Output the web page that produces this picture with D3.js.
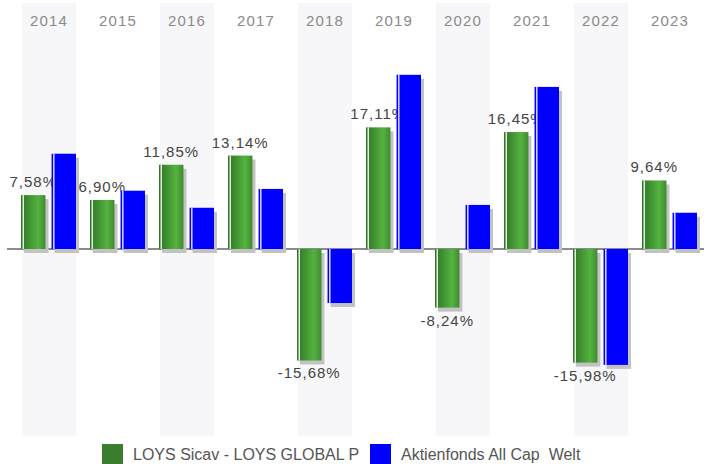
<!DOCTYPE html>
<html>
<head>
<meta charset="utf-8">
<script src="https://cdnjs.cloudflare.com/ajax/libs/d3/7.8.5/d3.min.js"></script>
<style>
  body { margin: 0; background: #fff; }
  svg { display: block; font-family: "Liberation Sans", Arial, sans-serif; }
</style>
</head>
<body>
<div id="chart"></div>
<script>
'use strict';
    //categories and series
    const years = ["2014", "2015", "2016", "2017", "2018", "2019", "2020", "2021", "2022", "2023"];
    const seriesNames = ["LOYS Sicav - LOYS GLOBAL P", "Aktienfonds All Cap  Welt"];
    const fundValues = [7.58, 6.90, 11.85, 13.14, -15.68, 17.11, -8.24, 16.45, -15.98, 9.64];
    const benchValues = [13.4, 8.2, 5.8, 8.45, -7.6, 24.5, 6.2, 22.8, -16.3, 5.1];
    const fundLabels = ["7,58%", "6,90%", "11,85%", "13,14%", "-15,68%", "17,11%", "-8,24%", "16,45%", "-15,98%", "9,64%"];

    const width = 704;
    const height = 464;

    //outer band scale for the years
    const x = d3.scaleBand()
        .domain(years)
        .range([14.5, 704.5])
        .paddingInner(0.2174)
        .paddingOuter(0.1087);
    //inner scale for the two series
    const x1 = d3.scaleBand()
        .domain(seriesNames)
        .range([-1, 54])
        .paddingInner(0.2);
    //invert y range so negatives go down
    const y = d3.scaleLinear()
        .domain([-26.3, 34.6])
        .range([436, 3]);

    const svg = d3.select("#chart").append("svg")
        .attr("width", width)
        .attr("height", height);

    //gradient for the green bars
    const grad = svg.append("defs").append("linearGradient")
        .attr("id", "greenGrad")
        .attr("x1", "0%").attr("x2", "100%")
        .attr("y1", "0%").attr("y2", "0%");
    grad.append("stop").attr("offset", "0%").attr("stop-color", "#2f7426");
    grad.append("stop").attr("offset", "70%").attr("stop-color", "#54b33f");
    grad.append("stop").attr("offset", "100%").attr("stop-color", "#3f8a30");

    //alternating background bands
    svg.selectAll("rect.band")
        .data(years.filter(function(d, i) { return i % 2 === 0; }))
        .enter().append("rect")
        .attr("class", "band")
        .attr("x", function(d) { return x(d); })
        .attr("y", y.range()[1])
        .attr("width", x.bandwidth())
        .attr("height", y.range()[0] - y.range()[1])
        .attr("fill", "#f7f7f9");

    //year labels on top
    const yearAxis = svg.append("g")
        .attr("transform", "translate(0,26)")
        .call(d3.axisTop(x).tickSize(0).tickPadding(0));
    yearAxis.select(".domain").remove();
    yearAxis.selectAll("text")
        .attr("fill", "#8a8a8a")
        .style("font-size", "15px")
        .style("letter-spacing", "1.2px")
        .style("font-family", "'Liberation Sans', Arial, sans-serif");

    //zero line
    svg.append("line")
        .attr("x1", 7).attr("x2", 704)
        .attr("y1", y(0)).attr("y2", y(0))
        .attr("stroke", "#666")
        .attr("stroke-width", 1.6);

    function barTop(v) { return Math.min(y(0), y(v)); }
    function barHeight(v) { return Math.abs(y(v) - y(0)); }

    //draws one series: shadow, bar, highlight stripe
    function drawSeries(values, name, fill) {
        const g = svg.append("g");
        const xs = function(d, i) { return x(years[i]) + x1(name); };
        g.selectAll("rect.shadow")
            .data(values)
            .enter().append("rect")
            .attr("class", "shadow")
            .attr("x", function(d, i) { return xs(d, i) + 3; })
            .attr("y", function(d) { return barTop(d) + 4; })
            .attr("width", x1.bandwidth())
            .attr("height", barHeight)
            .attr("fill", "#c2c2c2");
        g.selectAll("rect.bar")
            .data(values)
            .enter().append("rect")
            .attr("class", "bar")
            .attr("x", xs)
            .attr("y", barTop)
            .attr("width", x1.bandwidth())
            .attr("height", barHeight)
            .attr("fill", fill);
        g.selectAll("rect.stripe")
            .data(values)
            .enter().append("rect")
            .attr("class", "stripe")
            .attr("x", function(d, i) { return xs(d, i) + 1.5; })
            .attr("y", barTop)
            .attr("width", 1.5)
            .attr("height", barHeight)
            .attr("fill", "#ffffff")
            .attr("opacity", 0.85);
        return g;
    }

    drawSeries(fundValues, seriesNames[0], "url(#greenGrad)");

    //value labels for the fund (drawn under the blue bars)
    svg.selectAll("text.value")
        .data(fundValues)
        .enter().append("text")
        .attr("class", "value")
        .attr("x", function(d, i) { return x(years[i]) + x1(seriesNames[0]) + x1.bandwidth() / 2; })
        .attr("y", function(d) { return d >= 0 ? y(d) - 8 : y(d) + 18; })
        .attr("text-anchor", "middle")
        .attr("fill", "#444")
        .style("font-size", "15px")
        .style("letter-spacing", "1px")
        .text(function(d, i) { return fundLabels[i]; });

    drawSeries(benchValues, seriesNames[1], "#0000ff");

    //legend
    const legendColors = ["#3a7d2c", "#0000ff"];
    const legendX = [102, 370];
    const legend = svg.selectAll("g.legend")
        .data(seriesNames)
        .enter().append("g")
        .attr("class", "legend")
        .attr("transform", function(d, i) { return "translate(" + legendX[i] + ",444)"; });
    legend.append("rect")
        .attr("width", 21)
        .attr("height", 20)
        .attr("fill", function(d, i) { return legendColors[i]; });
    legend.append("text")
        .attr("x", 31)
        .attr("y", 16)
        .attr("fill", "#555")
        .style("font-size", "16px")
        .style("white-space", "pre")
        .text(function(d) { return d; });
</script>
</body>
</html>
